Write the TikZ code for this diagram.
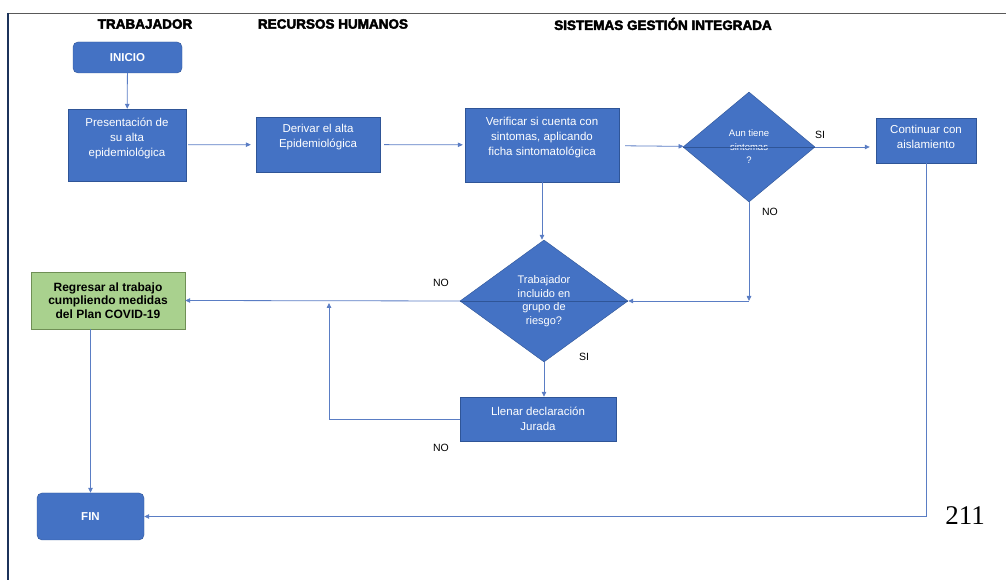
\documentclass[tikz,border=0pt]{standalone}
\usepackage{fontspec}
\setmainfont{Liberation Sans}
\newfontfamily\headfont[BoldFeatures={FakeBold=3}]{Liberation Sans}
\newfontfamily\pagefont{Liberation Serif}
\usetikzlibrary{shapes.geometric,arrows.meta}
\definecolor{azul}{HTML}{4472C4}
\definecolor{azulosc}{HTML}{2F5597}
\definecolor{linea}{HTML}{5A7DC4}
\definecolor{verde}{HTML}{A9D18E}
\definecolor{verdeosc}{HTML}{6F8F55}
% texto subido dentro de la caja
\newcommand\arriba[2]{\raisebox{0pt}[\height][\dimexpr\depth+#1\relax]{\begin{tabular}{@{}c@{}}#2\end{tabular}}}

\begin{document}
\begin{tikzpicture}[x=10pt,y=10pt,
    caja/.style={draw=azulosc,fill=azul,text=white,align=center,inner sep=1pt,font=\fontsize{11.5}{15}\selectfont},
    term/.style={caja,rounded corners=5pt,font=\bfseries\fontsize{11.5}{12}\selectfont},
    rombo/.style={diamond,draw=azulosc,fill=azul,text=white,align=center,inner sep=0pt,font=\fontsize{9.5}{13.5}\selectfont},
    flecha/.style={draw=linea,line width=0.8pt,-{Triangle[length=5pt,width=4.5pt]}},
    etiq/.style={font=\fontsize{10.5}{11}\selectfont},
    titulo/.style={font=\headfont\bfseries\fontsize{13.5}{15}\selectfont}]
    \useasboundingbox (0,0) rectangle (100.6,58);
    % marco de la pagina
    \draw[gray!70!black,line width=0.6pt] (0.8,56.7) -- (100.6,56.7);
    \draw[azulosc!60!black,line width=1.2pt] (0.8,56.7) -- (0.8,0);

    % encabezados
    \node[titulo] (t1) at (14.5,55.6) {TRABAJADOR};
    \node[titulo] (t2) at (33.3,55.6) {RECURSOS HUMANOS};
    \node[titulo] (t3) at (66.3,55.6) {SISTEMAS GESTIÓN INTEGRADA};

    % fila de arriba
    \node[term,minimum width=109pt,minimum height=31pt] (ini) at (12.75,52.25) {INICIO};
    \node[caja,minimum width=118pt,minimum height=72pt] (pres) at (12.7,43.5) {\arriba{12pt}{Presentación de\\su alta\\epidemiológica}};
    \node[caja,minimum width=124pt,minimum height=55pt] (der) at (31.8,43.55) {\arriba{15pt}{Derivar el alta\\Epidemiológica}};
    \node[caja,minimum width=154pt,minimum height=74pt] (ver) at (54.2,43.5) {\arriba{14pt}{Verificar si cuenta con\\sintomas, aplicando\\ficha sintomatológica}};
    \node[rombo,minimum width=132pt,minimum height=110pt] (d1) at (74.9,43.3) {Aun tiene\\sintomas\\?};
    \node[caja,minimum width=100pt,minimum height=45pt] (cont) at (92.6,43.95) {\arriba{4pt}{Continuar con\\aislamiento}};

    % fila del medio
    \node[rombo,minimum width=168pt,minimum height=122pt,font=\fontsize{11}{13.5}\selectfont] (d2) at (54.4,27.9) {Trabajador\\incluido en\\grupo de\\riesgo?};
    \node[caja,draw=verdeosc,fill=verde,text=black,font=\bfseries\fontsize{12}{13.5}\selectfont,minimum width=154pt,minimum height=57pt] (reg) at (10.8,27.95) {Regresar al trabajo\\cumpliendo medidas\\del Plan COVID-19};
    \node[caja,minimum width=156pt,minimum height=44pt] (lle) at (53.8,16.1) {Llenar declaración\\Jurada};

    % fin
    \node[term,minimum width=107pt,minimum height=47pt] (fin) at (9.05,6.35) {FIN};
    \node[font=\pagefont\fontsize{27}{29}\selectfont] (pag) at (96.5,6.4) {211};

    % conectores
    \coordinate (k1) at (d1.south |- d2.east);
    \coordinate (k2) at (32.9,27.7);
    \draw[flecha] (ini) -- (pres);
    \draw[flecha,shorten <=2pt,shorten >=5pt] (pres) -- (der);
    \draw[flecha,shorten <=4pt,shorten >=2pt] (der) -- (ver);
    \draw[flecha,shorten <=6pt] (ver) -- (d1);
    \draw[flecha,shorten >=6pt] (d1.east) -- (cont.west |- d1.east);
    \draw[azulosc,line width=0.8pt] (d1.west) -- (d1.east);
    \draw[flecha] (d1.south) -- (k1);
    \draw[flecha] (k1) -- (d2.east);
    \draw[flecha] (ver.south) -- (ver.south |- d2.north);
    \draw[azulosc,line width=0.8pt] (d2.west) -- (d2.east);
    \draw[flecha] (d2.west) -- (reg.east);
    \draw[flecha] (d2.south) -- (d2.south |- lle.north);
    \draw[flecha] (lle.west) -| (k2);
    \draw[flecha] (reg.south -| fin.north) -- (fin.north);
    \draw[flecha] (cont.south) |- (fin.east);

    % etiquetas
    \node[etiq] (si1) at (82.0,44.5) {SI};
    \node[etiq] (no1) at (77.0,36.8) {NO};
    \node[etiq] (no2) at (44.1,29.7) {NO};
    \node[etiq] (si2) at (58.4,22.3) {SI};
    \node[etiq] (no3) at (44.1,13.2) {NO};
\end{tikzpicture}
\end{document}
